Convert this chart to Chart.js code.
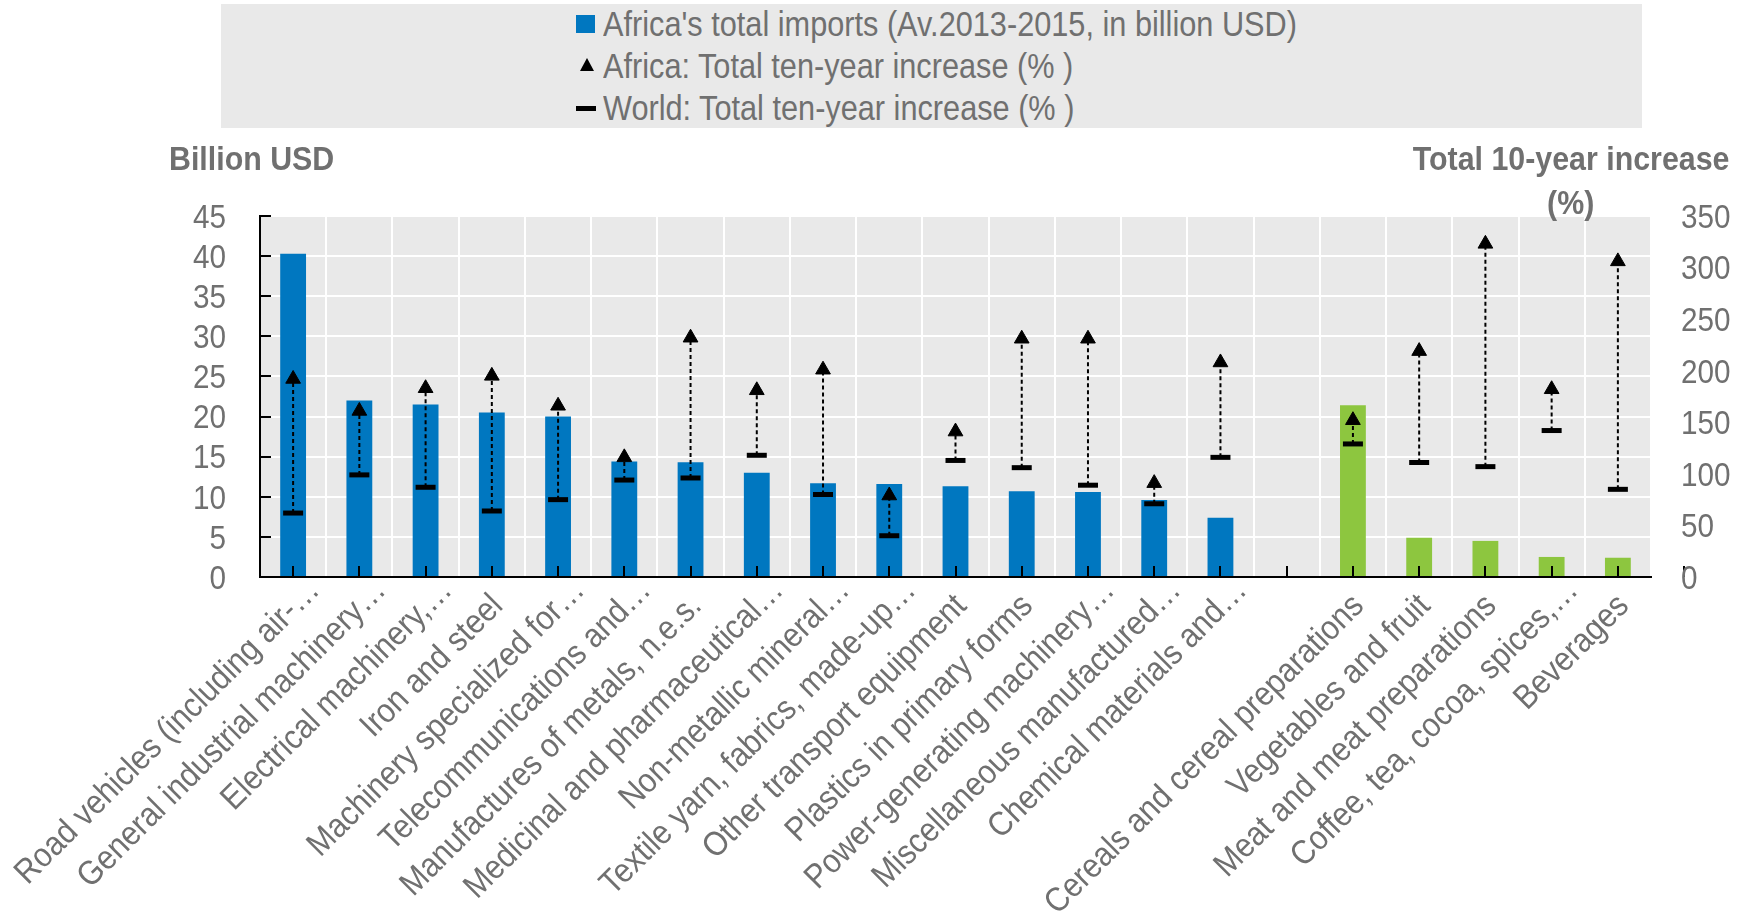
<!DOCTYPE html>
<html lang="en">
<head>
<meta charset="utf-8">
<title>Africa's imports and ten-year increase</title>
<script src="https://cdn.jsdelivr.net/npm/chart.js@4.4.1/dist/chart.umd.min.js"></script>
<style>
  body { margin: 0; background: #fff; }
  #wrap { position: relative; width: 1748px; height: 919px; font-family: "Liberation Sans", Arial, sans-serif; color: #707070; }
  #chart { position: absolute; left: 0; top: 0; }
  .legend { position: absolute; left: 221px; top: 4px; width: 1421px; height: 124px; background: #e9e9e9; }
  .legend .row { position: absolute; left: 0; width: 100%; height: 35px; }
  .legend .key { position: absolute; }
  .legend .txt { position: absolute; left: 382px; top: 0; font-size: 35px; line-height: 35px; white-space: nowrap; transform: scaleX(0.877); transform-origin: left center; }
  .key.box { left: 355px; top: 9px; width: 19px; height: 18px; background: #0077c0; }
  .key.tri { left: 359px; top: 10px; width: 0; height: 0; border-left: 7px solid transparent; border-right: 7px solid transparent; border-bottom: 13px solid #000; }
  .key.dash { left: 355px; top: 16px; width: 20px; height: 5px; background: #000; }
  .axis-title { position: absolute; font-weight: bold; font-size: 33px; line-height: 44px; white-space: nowrap; }
  .axis-title span { display: inline-block; transform: scaleX(0.92); }
</style>
</head>
<body>
<div id="wrap">
  <canvas id="chart" width="1748" height="919"></canvas>

  <div class="legend">
    <div class="row" style="top: 2px;"><span class="key box"></span><span class="txt">Africa's total imports (Av.2013-2015, in billion USD)</span></div>
    <div class="row" style="top: 44px;"><span class="key tri"></span><span class="txt">Africa: Total ten-year increase (% )</span></div>
    <div class="row" style="top: 86px;"><span class="key dash"></span><span class="txt">World: Total ten-year increase (% )</span></div>
  </div>

  <div class="axis-title" style="left: 169px; top: 137px;"><span style="transform-origin: left center;">Billion USD</span></div>
  <div class="axis-title" style="left: 1371px; top: 137px; width: 400px; text-align: center;"><span>Total 10-year increase</span><br><span>(%)</span></div>
</div>

<script>
// ---------------- DATA ----------------
const categories = [
  "Road vehicles (including air-…",
  "General industrial machinery…",
  "Electrical machinery,…",
  "Iron and steel",
  "Machinery specialized for…",
  "Telecommunications and…",
  "Manufactures of metals, n.e.s.",
  "Medicinal and pharmaceutical…",
  "Non-metallic mineral…",
  "Textile yarn, fabrics, made-up…",
  "Other transport equipment",
  "Plastics in primary forms",
  "Power-generating machinery…",
  "Miscellaneous manufactured…",
  "Chemical materials and…",
  "",
  "Cereals and cereal preparations",
  "Vegetables and fruit",
  "Meat and meat preparations",
  "Coffee, tea, cocoa, spices,…",
  "Beverages"
];

// Africa's total imports, average 2013-2015, billion USD
const imports = [40.3, 22.0, 21.5, 20.5, 20.0, 14.4, 14.3, 13.0, 11.7, 11.6, 11.3, 10.7, 10.6, 9.6, 7.4, null, 21.4, 4.9, 4.5, 2.5, 2.4];

// total ten-year increase, %
const africaIncrease = [192, 161, 183, 195, 166, 116, 232, 181, 201, 79, 141, 231, 231, 91, 208, null, 152, 219, 323, 182, 306];
const worldIncrease = [62, 99, 87, 64, 75, 94, 96, 118, 80, 40, 113, 106, 89, 71, 116, null, 129, 111, 107, 142, 85];

// product groups: manufactures first, food products from this index on
const foodStart = 16;

const leftTicks = { min: 0, max: 45, step: 5 };
const rightTicks = { min: 0, max: 350, step: 50 };

// ---------------- STYLE ----------------
const FONT = "'Liberation Sans', Arial, sans-serif";
const GREY = "#707070";
const BLUE = "#0077c0";
const GREEN = "#8dc63f";
const PLOT_BG = "#e9e9e9";
const NARROW = 0.9;        // horizontal squeeze to get a narrow face
const TICK_SIZE = 33;
const LABEL_SIZE = 34;

// ---------------- PLUGINS ----------------
// grey plot background
const plotBackground = {
  id: "plotBackground",
  beforeDraw(chart) {
    const { ctx, chartArea: a } = chart;
    ctx.save();
    ctx.fillStyle = PLOT_BG;
    ctx.fillRect(a.left, a.top, a.right - a.left, a.bottom - a.top);
    ctx.restore();
  }
};

// dotted connector from world marker up to africa marker
const connectors = {
  id: "connectors",
  afterDatasetDraw(chart, args) {
    if (args.index !== 0) return;
    const ctx = chart.ctx;
    const af = chart.getDatasetMeta(1).data;
    const wo = chart.getDatasetMeta(2).data;
    ctx.save();
    ctx.strokeStyle = "#000";
    ctx.lineWidth = 2;
    ctx.setLineDash([4, 3]);
    af.forEach((p, i) => {
      if (africaIncrease[i] == null || worldIncrease[i] == null) return;
      ctx.beginPath();
      ctx.moveTo(wo[i].x, wo[i].y);
      ctx.lineTo(p.x, p.y);
      ctx.stroke();
    });
    ctx.restore();
  }
};

// short tick marks pointing into the plot
const innerTicks = {
  id: "innerTicks",
  afterDraw(chart) {
    const { ctx, chartArea: a } = chart;
    const x = chart.scales.x;
    const y = chart.scales.y;
    const len = 11;
    ctx.save();
    ctx.strokeStyle = "#000";
    ctx.lineWidth = 2;
    ctx.beginPath();
    y.ticks.forEach(t => {
      const py = Math.round(y.getPixelForValue(t.value));
      ctx.moveTo(a.left, py);
      ctx.lineTo(a.left + len, py);
    });
    for (let i = 0; i <= categories.length; i++) {
      const px = Math.round((x.getPixelForValue(i - 0.5) + x.getPixelForValue(i + 0.5)) / 2);
      ctx.moveTo(px, a.bottom);
      ctx.lineTo(px, a.bottom - len);
    }
    ctx.stroke();
    ctx.restore();
  }
};

// tick labels in a narrow face (squeezed text)
const axisLabels = {
  id: "axisLabels",
  afterDraw(chart) {
    const { ctx } = chart;
    const { x, y, y2 } = chart.scales;
    ctx.save();
    ctx.fillStyle = GREY;
    ctx.textBaseline = "alphabetic";

    const drawText = (txt, px, py, align, angle, shift) => {
      ctx.save();
      ctx.translate(px, py);
      if (angle) ctx.rotate(angle);
      if (shift) ctx.translate(shift, 0);
      ctx.scale(NARROW, 1);
      ctx.textAlign = align;
      ctx.fillText(txt, 0, 0);
      ctx.restore();
    };

    // value axes: digits centred on the tick
    ctx.font = `${TICK_SIZE}px ${FONT}`;
    const mid = 0.358 * TICK_SIZE;
    y.ticks.forEach(t => drawText(String(t.value), y.right - 34, y.getPixelForValue(t.value) + mid, "right"));
    y2.ticks.forEach(t => drawText(String(t.value), y2.left + 30, y2.getPixelForValue(t.value) + mid, "left"));

    // categories, rotated 45 degrees; cut-off names run a bit past the anchor
    ctx.font = `${LABEL_SIZE}px ${FONT}`;
    categories.forEach((c, i) => {
      if (!c) return;
      const over = c.endsWith("…") ? 22 : 0;
      drawText(c, x.getPixelForValue(i) + 12.5, x.top + 30.5, "right", -Math.PI / 4, over);
    });
    ctx.restore();
  }
};

// ---------------- CHART ----------------
new Chart(document.getElementById("chart"), {
  type: "bar",
  data: {
    labels: categories,
    datasets: [
      {
        label: "Africa's total imports (Av.2013-2015, in billion USD)",
        data: imports,
        backgroundColor: imports.map((v, i) => i >= foodStart ? GREEN : BLUE),
        barPercentage: 0.39,
        categoryPercentage: 1.0,
        yAxisID: "y",
        order: 3
      },
      {
        type: "line",
        label: "Africa: Total ten-year increase (% )",
        data: africaIncrease,
        showLine: false,
        pointStyle: "triangle",
        pointRadius: 8.5,
        pointBackgroundColor: "#000",
        pointBorderColor: "#000",
        pointBorderWidth: 1,
        yAxisID: "y2",
        order: 1
      },
      {
        type: "line",
        label: "World: Total ten-year increase (% )",
        data: worldIncrease,
        showLine: false,
        pointStyle: "line",
        pointRadius: 10,
        pointBorderColor: "#000",
        pointBorderWidth: 5,
        yAxisID: "y2",
        order: 2
      }
    ]
  },
  options: {
    responsive: false,
    animation: false,
    devicePixelRatio: 1,
    layout: { autoPadding: false, padding: { top: 216, left: 0, right: 0, bottom: 0 } },
    plugins: {
      legend: { display: false },
      tooltip: { enabled: false }
    },
    scales: {
      x: {
        offset: true,
        grid: { color: "#fff", lineWidth: 2, offset: true, drawTicks: false },
        border: { color: "#000", width: 2 },
        ticks: { display: false, autoSkip: false },
        afterFit(s) { s.height = 919 - 577; }
      },
      y: {
        position: "left",
        min: leftTicks.min,
        max: leftTicks.max,
        grid: { color: "#fff", lineWidth: 2, drawTicks: false },
        border: { color: "#000", width: 2 },
        ticks: { display: false, autoSkip: false, stepSize: leftTicks.step },
        afterFit(s) { s.width = 260; }
      },
      y2: {
        position: "right",
        min: rightTicks.min,
        max: rightTicks.max,
        grid: { display: false, drawTicks: false },
        border: { display: false },
        ticks: { display: false, autoSkip: false, stepSize: rightTicks.step },
        afterFit(s) { s.width = 1748 - 1651; }
      }
    }
  },
  plugins: [plotBackground, connectors, innerTicks, axisLabels]
});
</script>
</body>
</html>
